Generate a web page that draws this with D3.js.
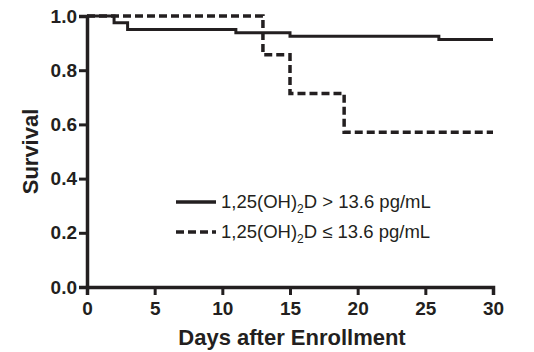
<!DOCTYPE html>
<html>
<head>
<meta charset="utf-8">
<script src="https://cdn.jsdelivr.net/npm/d3@7"></script>
<style>
  body { margin: 0; background: #fff; }
  text { font-family: "Liberation Sans", Arial, sans-serif; fill: #231f20; }
</style>
</head>
<body>
<svg id="chart" width="534" height="352"></svg>
<script>
// Kaplan-Meier step data (days, survival)
const highDays = [0, 2, 3, 11, 15, 26, 30];
const highSurv = [1.0, 0.975, 0.95, 0.938, 0.925, 0.913, 0.913];
const lowDays = [0, 13, 15, 19, 30];
const lowSurv = [1.0, 0.857, 0.714, 0.571, 0.571];
const xTicks = [0, 5, 10, 15, 20, 25, 30];
const yTicks = [0.0, 0.2, 0.4, 0.6, 0.8, 1.0];

const margin = { top: 16, left: 87, right: 41, bottom: 65 };
const width = 534 - margin.left - margin.right;
const height = 352 - margin.top - margin.bottom;
const ink = '#231f20';

const svg = d3.select('#chart');
const g = svg.append('g').attr('transform', `translate(${margin.left},${margin.top})`);

const x = d3.scaleLinear().domain([0, 30]).range([0, width]);
const y = d3.scaleLinear().domain([0, 1]).range([height, 0]);

// axes
const xAxis = g.append('g')
  .attr('transform', `translate(0,${height})`)
  .call(d3.axisBottom(x).tickValues(xTicks).tickSize(8).tickPadding(7).tickFormat(d3.format('d')));
const yAxis = g.append('g')
  .call(d3.axisLeft(y).tickValues(yTicks).tickSize(8).tickPadding(2).tickFormat(d3.format('.1f')));

[xAxis, yAxis].forEach(a => {
  a.select('.domain').attr('stroke', ink).attr('stroke-width', 3.5);
  a.selectAll('.tick line').attr('stroke', ink).attr('stroke-width', 3);
  a.selectAll('.tick text')
    .style('font-size', '19px').style('font-weight', 'bold')
    .style('font-family', '"Liberation Sans", Arial, sans-serif').attr('fill', ink);
});

// survival curves
const line = d3.line()
  .x(d => x(d[0]))
  .y(d => y(d[1]))
  .curve(d3.curveStepAfter);

g.append('path')
  .datum(highDays.map((d, i) => [d, highSurv[i]]))
  .attr('fill', 'none').attr('stroke', ink).attr('stroke-width', 3)
  .attr('d', line);

g.append('path')
  .datum(lowDays.map((d, i) => [d, lowSurv[i]]))
  .attr('fill', 'none').attr('stroke', ink).attr('stroke-width', 3.5)
  .attr('stroke-dasharray', '8,4')
  .attr('d', line);

// legend
const legend = [
  { dash: null, op: '>' },
  { dash: '8,4', op: '≤' }
];
legend.forEach((d, i) => {
  const ly = 202 + i * 30;
  svg.append('line')
    .attr('x1', 176).attr('x2', 216).attr('y1', ly).attr('y2', ly)
    .attr('stroke', ink).attr('stroke-width', 3.5)
    .attr('stroke-dasharray', d.dash);
  const t = svg.append('text')
    .attr('x', 221).attr('y', ly + 6)
    .style('font-size', '18.5px');
  t.append('tspan').text('1,25(OH)');
  t.append('tspan').attr('dy', 5).style('font-size', '12px').text('2');
  t.append('tspan').attr('dy', -5).text(`D ${d.op} 13.6 pg/mL`);
});

// axis titles
svg.append('text')
  .attr('x', margin.left + width / 2 + 2).attr('y', 345)
  .attr('text-anchor', 'middle')
  .style('font-size', '22px').style('font-weight', 'bold')
  .text('Days after Enrollment');

svg.append('text')
  .attr('transform', `translate(38,${margin.top + height / 2}) rotate(-90)`)
  .attr('text-anchor', 'middle')
  .style('font-size', '22px').style('font-weight', 'bold')
  .text('Survival');
</script>
</body>
</html>
